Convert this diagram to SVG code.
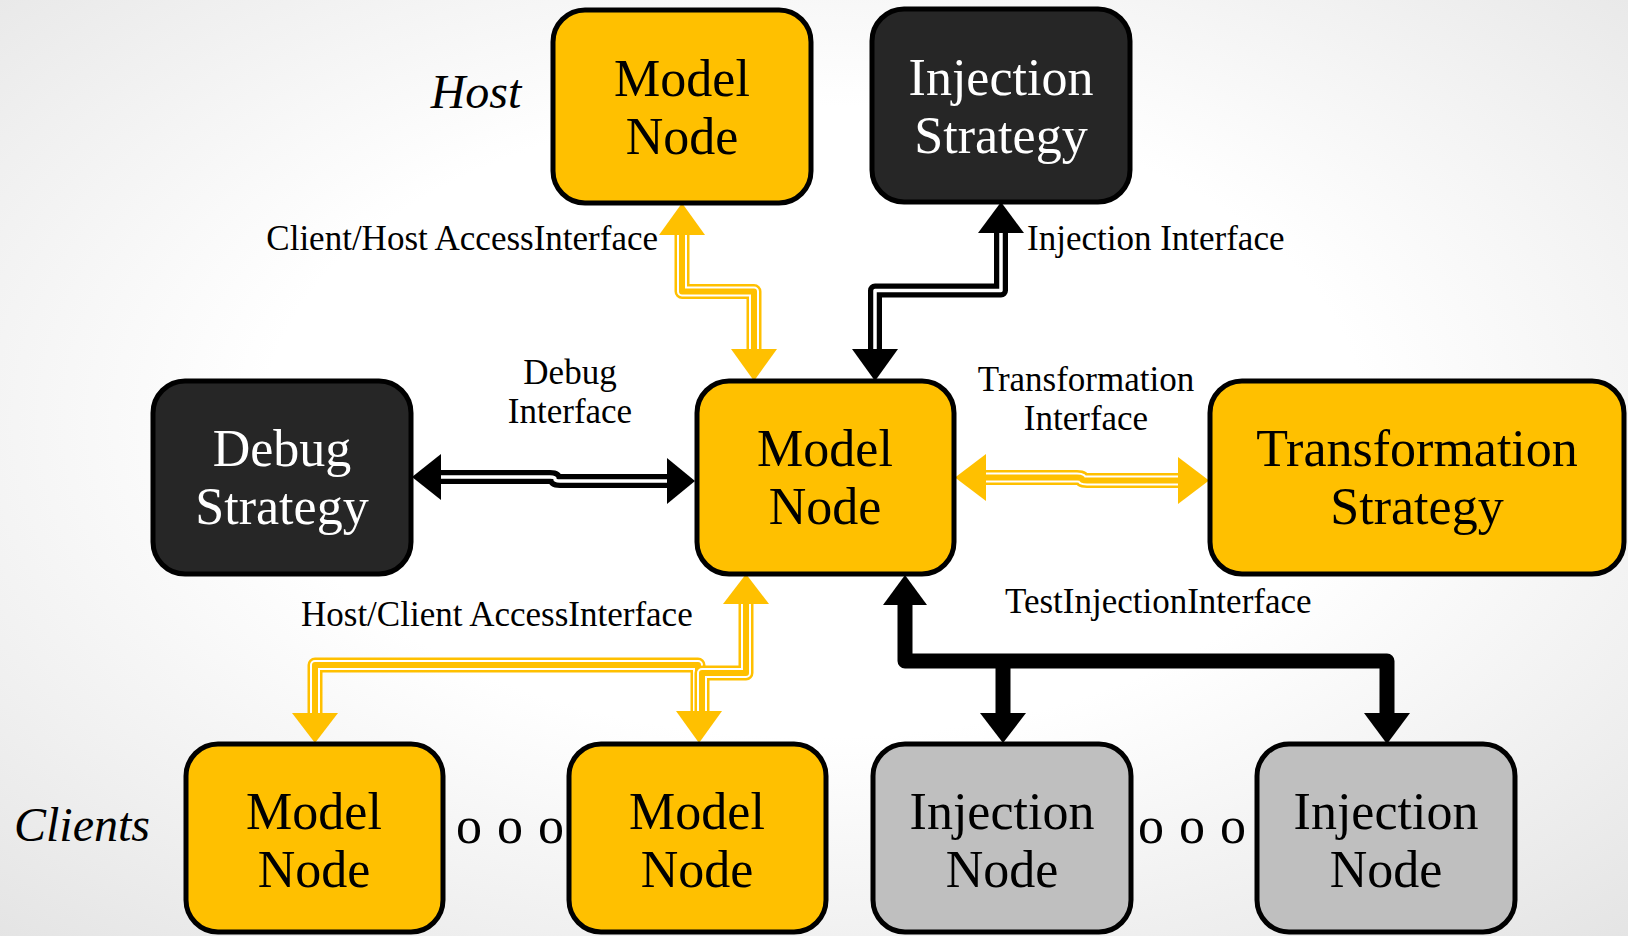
<svg xmlns="http://www.w3.org/2000/svg" width="1628" height="936" viewBox="0 0 1628 936">
  <defs>
    <radialGradient id="bg" cx="50%" cy="45%" r="75%">
      <stop offset="0.45" stop-color="#ffffff"/>
      <stop offset="1" stop-color="#e4e4e4"/>
    </radialGradient>
    <style>
      .box { stroke: #000; stroke-width: 5; }
      .yel { fill: #FFC000; }
      .drk { fill: #262626; }
      .gry { fill: #BFBFBF; }
      .nt { font-family: "Liberation Serif", "DejaVu Serif", serif; font-size: 52px; text-anchor: middle; fill: #000; }
      .nw { fill: #fff; }
      .lbl { font-family: "Liberation Serif", "DejaVu Serif", serif; font-size: 35px; fill: #000; }
      .mid { text-anchor: middle; }
      .ital { font-family: "Liberation Serif", "DejaVu Serif", serif; font-size: 48px; font-style: italic; text-anchor: middle; fill: #000; }
      .dots { font-family: "Liberation Serif", "DejaVu Serif", serif; font-size: 52px; fill: #000; text-anchor: middle; word-spacing: 2px; }
      .c { fill: none; stroke-linejoin: round; }
      .yo { stroke: #FFC000; stroke-width: 15; }
      .yw { stroke: #ffffff; stroke-width: 10; }
      .yi { stroke: #FFC000; stroke-width: 6; }
      .bo { stroke: #000; stroke-width: 14; }
      .bw { stroke: #ffffff; stroke-width: 3.5; }
      .bs { stroke: #000; stroke-width: 15; }
      .ya { fill: #FFC000; }
      .ba { fill: #000; }
    </style>
  </defs>
  <rect x="0" y="0" width="1628" height="936" fill="url(#bg)"/>

  <g id="connectors">
    <!-- Client/Host Access Interface (yellow) -->
    <g id="conn-host-access">
      <path class="c yo" d="M682,233 V291.5 H754 V351"/>
      <path class="c yw" d="M682,233 V291.5 H754 V351"/>
      <path class="c yi" d="M682,233 V291.5 H754 V351"/>
      <polygon class="ya" points="682,203 659,235 705,235"/>
      <polygon class="ya" points="754,381 731,349 777,349"/>
    </g>
    <!-- Injection Interface (black) -->
    <g id="conn-injection">
      <path class="c bo" d="M1001,231 V290.5 H875 V351"/>
      <path class="c bw" d="M1001,231 V290.5 H875 V351"/>
      <polygon class="ba" points="1001,202 978,233 1024,233"/>
      <polygon class="ba" points="875,381 852,349 898,349"/>
    </g>
    <!-- Debug Interface (black) -->
    <g id="conn-debug">
      <path class="c bo" d="M439,477 H550 Q555,477 555,479 Q555,481 560,481 H669"/>
      <path class="c bw" d="M439,477 H550 Q555,477 555,479 Q555,481 560,481 H669"/>
      <polygon class="ba" points="412,477 441,454 441,500"/>
      <polygon class="ba" points="695,481 667,458 667,504"/>
    </g>
    <!-- Transformation Interface (yellow) -->
    <g id="conn-transformation">
      <path class="c yo" d="M984,477.5 H1077 Q1082,477.5 1082,479 Q1082,480.5 1087,480.5 H1180"/>
      <path class="c yw" d="M984,477.5 H1077 Q1082,477.5 1082,479 Q1082,480.5 1087,480.5 H1180"/>
      <path class="c yi" d="M984,477.5 H1077 Q1082,477.5 1082,479 Q1082,480.5 1087,480.5 H1180"/>
      <polygon class="ya" points="955,477.5 986,454 986,501"/>
      <polygon class="ya" points="1209,480.5 1178,457 1178,504"/>
    </g>
    <!-- Host/Client Access Interface (yellow) -->
    <g id="conn-client-access">
      <path class="c yo" d="M315,715 V665 H698 V715"/>
      <path class="c yw" d="M315,715 V665 H698 V715"/>
      <path class="c yi" d="M315,715 V665 H698 V715"/>
      <path class="c yo" d="M746,602 V673 H702 V715"/>
      <path class="c yw" d="M746,602 V673 H702 V715"/>
      <path class="c yi" d="M746,602 V673 H702 V715"/>
      <polygon class="ya" points="746,574 723,604 769,604"/>
      <polygon class="ya" points="315,743 292,713 338,713"/>
      <polygon class="ya" points="699,743 676,711 722,711"/>
    </g>
    <!-- TestInjectionInterface (black solid) -->
    <g id="conn-test-injection">
      <path class="c bs" d="M905,603 V661 H1387 V715"/>
      <path class="c bs" d="M1003,661 V714"/>
      <polygon class="ba" points="905,575 883,605 927,605"/>
      <polygon class="ba" points="1003,743 980,713 1026,713"/>
      <polygon class="ba" points="1387,744 1364,713 1410,713"/>
    </g>
  </g>

  <g id="labels">
    <text class="ital" x="476" y="108">Host</text>
    <text class="ital" x="82" y="841">Clients</text>
    <text class="lbl" x="658" y="250" text-anchor="end">Client/Host AccessInterface</text>
    <text class="lbl" x="1027" y="250">Injection Interface</text>
    <text class="lbl mid" x="570" y="384">Debug</text>
    <text class="lbl mid" x="570" y="423">Interface</text>
    <text class="lbl mid" x="1086" y="391">Transformation</text>
    <text class="lbl mid" x="1086" y="430">Interface</text>
    <text class="lbl" x="301" y="626">Host/Client AccessInterface</text>
    <text class="lbl" x="1005" y="613">TestInjectionInterface</text>
    <text class="dots" x="510" y="843">o o o</text>
    <text class="dots" x="1192" y="843">o o o</text>
  </g>

  <g id="host-model-node">
    <rect class="box yel" x="553" y="10" width="258" height="193" rx="32"/>
    <text class="nt" x="682" y="96">Model</text>
    <text class="nt" x="682" y="154">Node</text>
  </g>
  <g id="injection-strategy">
    <rect class="box drk" x="872" y="9" width="258" height="193" rx="32"/>
    <text class="nt nw" x="1001" y="95">Injection</text>
    <text class="nt nw" x="1001" y="153">Strategy</text>
  </g>
  <g id="debug-strategy">
    <rect class="box drk" x="153" y="381" width="258" height="193" rx="32"/>
    <text class="nt nw" x="282" y="466">Debug</text>
    <text class="nt nw" x="282" y="524">Strategy</text>
  </g>
  <g id="center-model-node">
    <rect class="box yel" x="697" y="381" width="257" height="193" rx="32"/>
    <text class="nt" x="825" y="466">Model</text>
    <text class="nt" x="825" y="524">Node</text>
  </g>
  <g id="transformation-strategy">
    <rect class="box yel" x="1210" y="381" width="414" height="193" rx="32"/>
    <text class="nt" x="1417" y="466">Transformation</text>
    <text class="nt" x="1417" y="524">Strategy</text>
  </g>
  <g id="client-model-node-1">
    <rect class="box yel" x="186" y="744" width="257" height="188" rx="32"/>
    <text class="nt" x="314" y="829">Model</text>
    <text class="nt" x="314" y="887">Node</text>
  </g>
  <g id="client-model-node-2">
    <rect class="box yel" x="569" y="744" width="257" height="188" rx="32"/>
    <text class="nt" x="697" y="829">Model</text>
    <text class="nt" x="697" y="887">Node</text>
  </g>
  <g id="injection-node-1">
    <rect class="box gry" x="873" y="744" width="258" height="188" rx="32"/>
    <text class="nt" x="1002" y="829">Injection</text>
    <text class="nt" x="1002" y="887">Node</text>
  </g>
  <g id="injection-node-2">
    <rect class="box gry" x="1257" y="744" width="258" height="188" rx="32"/>
    <text class="nt" x="1386" y="829">Injection</text>
    <text class="nt" x="1386" y="887">Node</text>
  </g>
</svg>
